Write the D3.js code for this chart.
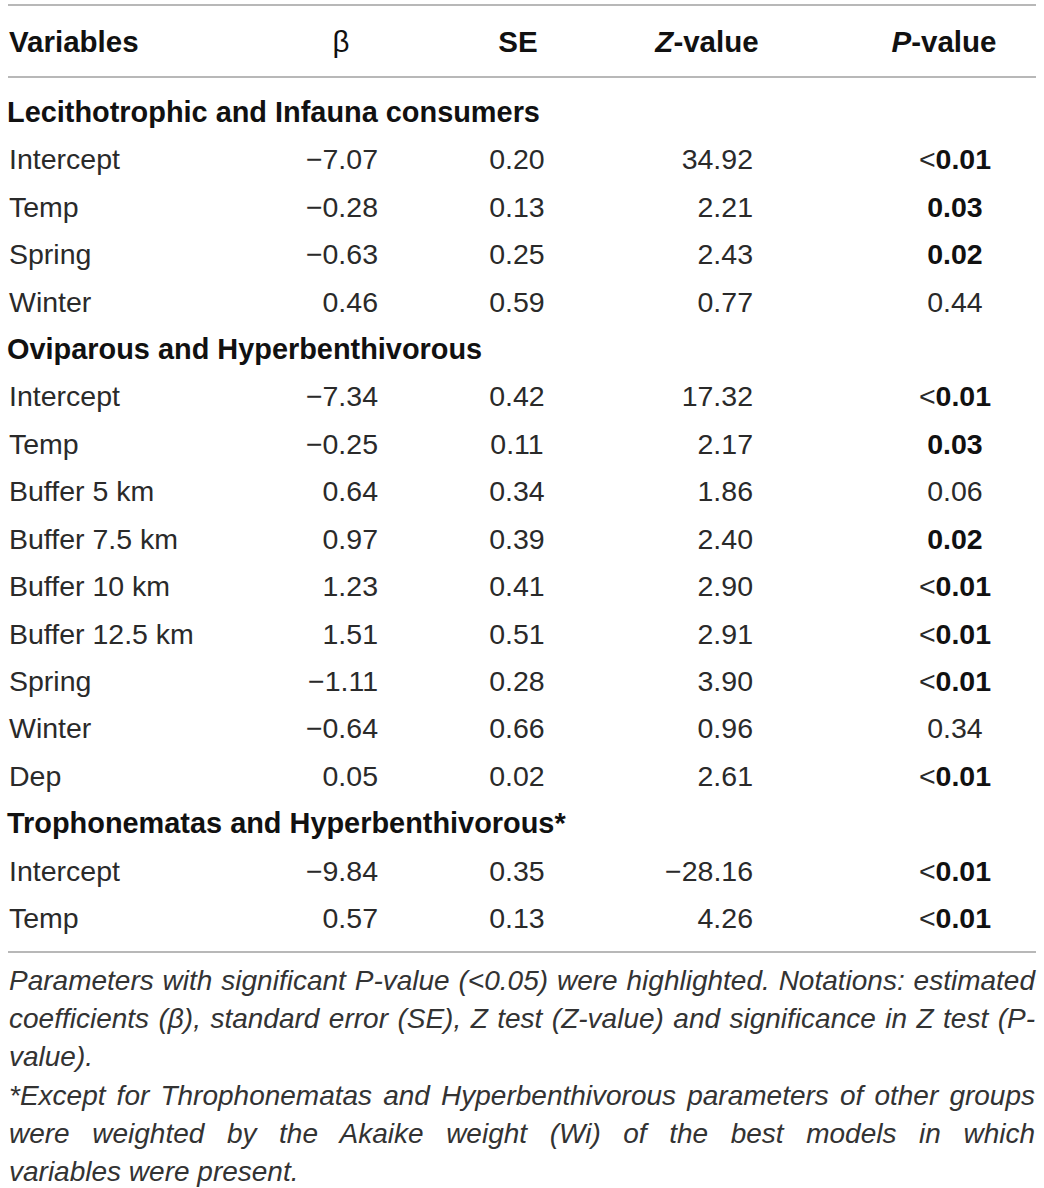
<!DOCTYPE html>
<html>
<head>
<meta charset="utf-8">
<script src="https://cdn.jsdelivr.net/npm/d3@7"></script>
<style>
  body { margin: 0; background: #fff; }
  svg text { font-family: "Liberation Sans", Arial, Helvetica, sans-serif; }
</style>
</head>
<body>
<svg id="chart" width="1044" height="1188"></svg>
<script>
// table content
var columns = ["Variables", "β", "SE", "Z-value", "P-value"];
var groupNames = [
  "Lecithotrophic and Infauna consumers",
  "Oviparous and Hyperbenthivorous",
  "Trophonematas and Hyperbenthivorous*"
];
var rowGroup = [0, 0, 0, 0, 1, 1, 1, 1, 1, 1, 1, 1, 1, 2, 2];
var variables = ["Intercept", "Temp", "Spring", "Winter",
  "Intercept", "Temp", "Buffer 5 km", "Buffer 7.5 km", "Buffer 10 km", "Buffer 12.5 km", "Spring", "Winter", "Dep",
  "Intercept", "Temp"];
var beta = [-7.07, -0.28, -0.63, 0.46, -7.34, -0.25, 0.64, 0.97, 1.23, 1.51, -1.11, -0.64, 0.05, -9.84, 0.57];
var se = [0.20, 0.13, 0.25, 0.59, 0.42, 0.11, 0.34, 0.39, 0.41, 0.51, 0.28, 0.66, 0.02, 0.35, 0.13];
var zValue = [34.92, 2.21, 2.43, 0.77, 17.32, 2.17, 1.86, 2.40, 2.90, 2.91, 3.90, 0.96, 2.61, -28.16, 4.26];
var pValue = ["<0.01", "0.03", "0.02", "0.44", "<0.01", "0.03", "0.06", "0.02", "<0.01", "<0.01", "<0.01", "0.34", "<0.01", "<0.01", "<0.01"];
var significant = [true, true, true, false, true, true, false, true, true, true, true, false, true, true, true];
var footLines = [
  "Parameters with significant P-value (<0.05) were highlighted. Notations: estimated",
  "coefficients (β), standard error (SE), Z test (Z-value) and significance in Z test (P-",
  "value).",
  "*Except for Throphonematas and Hyperbenthivorous parameters of other groups",
  "were weighted by the Akaike weight (Wi) of the best models in which",
  "variables were present."
];
var justified = [true, true, false, true, true, false];

var svg = d3.select("#chart");
var fmt = d3.format(".2f");
var fs = 28.5;
var textCol = "#2a2a2a";

// build the row list: group header then its rows
var rows = [];
groupNames.forEach(function(g, gi) {
  rows.push({type: "group", label: g});
  rowGroup.forEach(function(rg, i) {
    if (rg === gi) rows.push({type: "row", i: i});
  });
});

var y = d3.scaleLinear().domain([0, rows.length - 1]).range([122, 928]);
var x = d3.scaleOrdinal().domain(columns).range([9, 378, 517, 753, 955]);
var xHead = d3.scaleOrdinal().domain(columns).range([9, 341, 518, 707, 944]);

// rules
var rules = [5, 77, 952];
svg.selectAll("line.rule").data(rules).enter().append("line")
  .attr("class", "rule")
  .attr("x1", 8).attr("x2", 1036)
  .attr("y1", d => d).attr("y2", d => d)
  .attr("stroke", "#a0a0a0").attr("stroke-width", 1.6);

// header
var head = svg.append("g");
columns.forEach(function(c, ci) {
  var t = head.append("text")
    .attr("x", xHead(c)).attr("y", 52)
    .attr("font-size", 29.5)
    .attr("fill", "#111")
    .attr("text-anchor", ci === 0 ? "start" : "middle")
    .attr("font-weight", c === "β" ? "normal" : "bold");
  if (c === "Z-value" || c === "P-value") {
    t.append("tspan").attr("font-style", "italic").text(c[0]);
    t.append("tspan").text(c.slice(1));
  } else {
    t.text(c);
  }
});

// body
var body = svg.append("g");
rows.forEach(function(r, k) {
  var yy = y(k);
  if (r.type === "group") {
    body.append("text").attr("x", 7).attr("y", yy)
      .attr("font-size", 28.9).attr("font-weight", "bold").attr("fill", "#111")
      .text(r.label);
    return;
  }
  var i = r.i;
  body.append("text").attr("x", x("Variables")).attr("y", yy)
    .attr("font-size", fs).attr("fill", textCol).text(variables[i]);
  body.append("text").attr("x", x("β")).attr("y", yy)
    .attr("font-size", fs).attr("fill", textCol).attr("text-anchor", "end").text(fmt(beta[i]));
  body.append("text").attr("x", x("SE")).attr("y", yy)
    .attr("font-size", fs).attr("fill", textCol).attr("text-anchor", "middle").text(fmt(se[i]));
  body.append("text").attr("x", x("Z-value")).attr("y", yy)
    .attr("font-size", fs).attr("fill", textCol).attr("text-anchor", "end").text(fmt(zValue[i]));
  var p = body.append("text").attr("x", x("P-value")).attr("y", yy)
    .attr("font-size", fs).attr("text-anchor", "middle");
  if (pValue[i][0] === "<") {
    p.append("tspan").attr("fill", textCol).text("<");
    p.append("tspan").attr("font-weight", significant[i] ? "bold" : "normal")
      .attr("fill", significant[i] ? "#111" : textCol).text(pValue[i].slice(1));
  } else {
    p.attr("font-weight", significant[i] ? "bold" : "normal")
      .attr("fill", significant[i] ? "#111" : textCol).text(pValue[i]);
  }
});

// footnote, justified lines
var footY = d3.scaleLinear().domain([0, footLines.length - 1]).range([990, 1181]);
var foot = svg.append("g");
footLines.forEach(function(line, li) {
  var t = foot.append("text").attr("x", 9).attr("y", footY(li))
    .attr("font-size", 28).attr("font-style", "italic").attr("fill", "#333")
    .text(line);
  if (justified[li]) {
    var w = t.node().getComputedTextLength();
    var spaces = line.split(" ").length - 1;
    var extra = (1035 - 9 - w) / spaces;
    t.attr("word-spacing", extra);
  }
});
</script>
</body>
</html>
